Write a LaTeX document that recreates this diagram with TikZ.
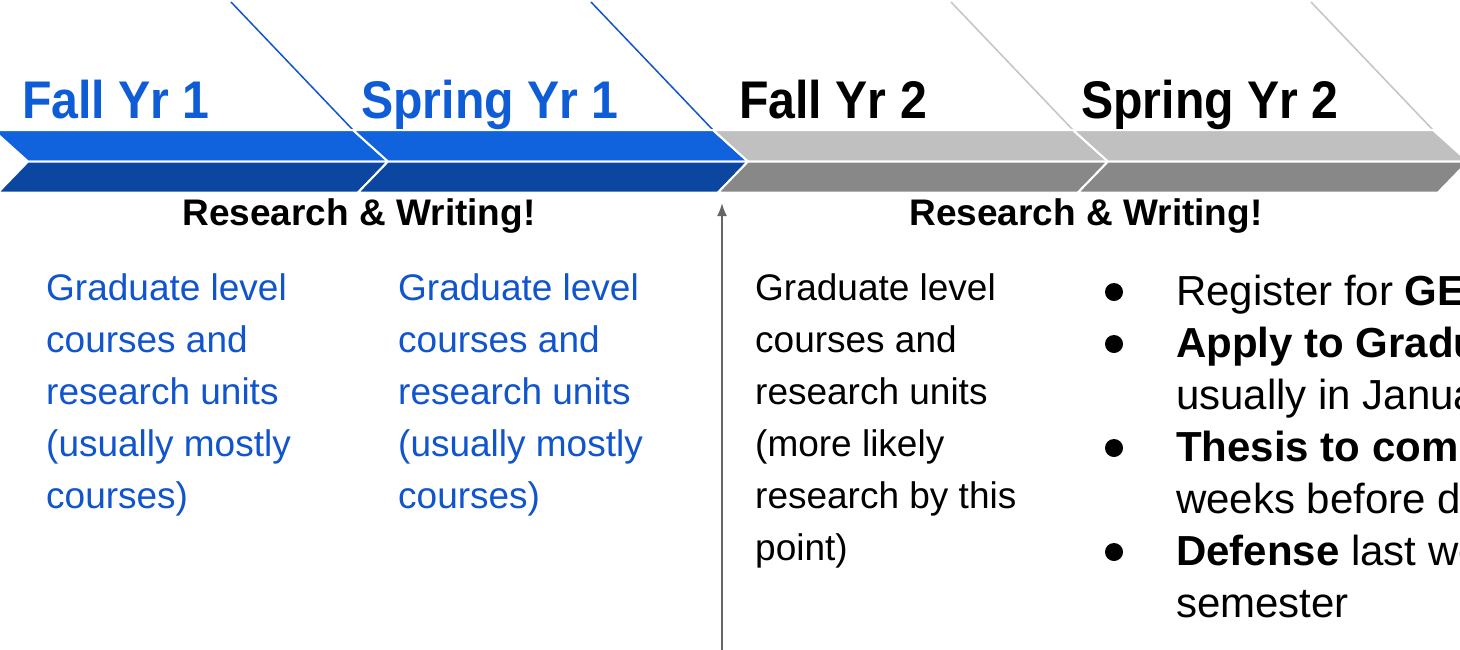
\documentclass[tikz,border=0pt]{standalone}
\usepackage{fontspec}
\setmainfont{Liberation Sans}
\newfontfamily\headfont[FakeStretch=0.91]{Liberation Sans}
\usetikzlibrary{arrows.meta}
\definecolor{bandBlue}{RGB}{16,98,221}
\definecolor{bandBlueDark}{RGB}{11,71,161}
\definecolor{bandGray}{RGB}{192,192,192}
\definecolor{bandGrayDark}{RGB}{136,136,136}
\definecolor{lineBlue}{RGB}{17,85,204}
\definecolor{lineGray}{RGB}{196,196,196}
\definecolor{textBlue}{RGB}{17,85,204}
\definecolor{headBlue}{RGB}{14,92,214}
\definecolor{arrowGray}{RGB}{102,102,102}
\tikzset{
  band/.style={draw=white, line width=2pt, line join=miter},
  heading/.style={anchor=base west, inner sep=0pt, font=\headfont\bfseries\fontsize{53}{60}\selectfont},
  rwlabel/.style={anchor=base, inner sep=0pt, font=\bfseries\fontsize{37}{44}\selectfont},
  bodytext/.style={anchor=base west, inner sep=0pt},
  bulletdot/.style={circle, fill=black, minimum size=18pt, inner sep=0pt},
  guide/.style={line width=1.5pt}
}
\newcommand{\bodybox}[1]{\parbox[t]{400pt}{\raggedright\fontsize{37}{52}\selectfont #1}}
\newcommand{\listbox}[1]{\parbox[t]{400pt}{\raggedright\fontsize{42}{52}\selectfont #1}}
\begin{document}
\begin{tikzpicture}[x=1pt,y=-1pt]
\useasboundingbox (0,0) rectangle (1460,649);
\clip (0,0) rectangle (1460,649);
\fill[white] (0,0) rectangle (1460,649);
% chevron segments
\foreach \L/\ct/\cb/\cl in {-7/bandBlue/bandBlueDark/lineBlue, 353/bandBlue/bandBlueDark/lineBlue, 713/bandGray/bandGrayDark/lineGray, 1073/bandGray/bandGrayDark/lineGray}{
  \draw[guide, \cl] (\L+360,130) -- (\L+238,2);
  \filldraw[band, fill=\ct] (\L,130) -- (\L+360,130) -- (\L+395,161.5) -- (\L+35,161.5) -- cycle;
  \filldraw[band, fill=\cb] (\L+35,161.5) -- (\L+395,161.5) -- (\L+365,192.5) -- (\L+5,192.5) -- cycle;
}
% headings
\node[heading, text=headBlue] (h1) at (22,118) {Fall Yr 1};
\node[heading, text=headBlue] (h2) at (361,118) {Spring Yr 1};
\node[heading, text=black] (h3) at (739,118) {Fall Yr 2};
\node[heading, text=black] (h4) at (1081,118) {Spring Yr 2};
% research & writing
\node[rwlabel] (rw1) at (359,225) {Research \& Writing!};
\node[rwlabel] (rw2) at (1086,225) {Research \& Writing!};
% columns
\node[bodytext, text=textBlue] (c1) at (46,300) {\bodybox{Graduate level\\courses and\\research units\\(usually mostly\\courses)}};
\node[bodytext, text=textBlue] (c2) at (398,300) {\bodybox{Graduate level\\courses and\\research units\\(usually mostly\\courses)}};
\node[bodytext, text=black] (c3) at (755,300) {\bodybox{Graduate level\\courses and\\research units\\(more likely\\research by this\\point)}};
% bullet list
\node[bodytext] (b1) at (1176,305) {\listbox{Register for \textbf{GE}\\\textbf{Apply to Gradu}\\usually in Janua\\\textbf{Thesis to comm}\\weeks before d\\\textbf{Defense} last we\\semester}};
\node[bulletdot] (d1) at (1114,292) {};
\node[bulletdot] (d2) at (1114,344) {};
\node[bulletdot] (d3) at (1114,448) {};
\node[bulletdot] (d4) at (1114,552) {};
% arrow
\coordinate (abot) at (722,650);
\coordinate (atop) at (722,203);
\draw[arrowGray, line width=2pt, -{Latex[length=13pt,width=10pt]}] (abot) -- (atop);
\end{tikzpicture}
\end{document}
